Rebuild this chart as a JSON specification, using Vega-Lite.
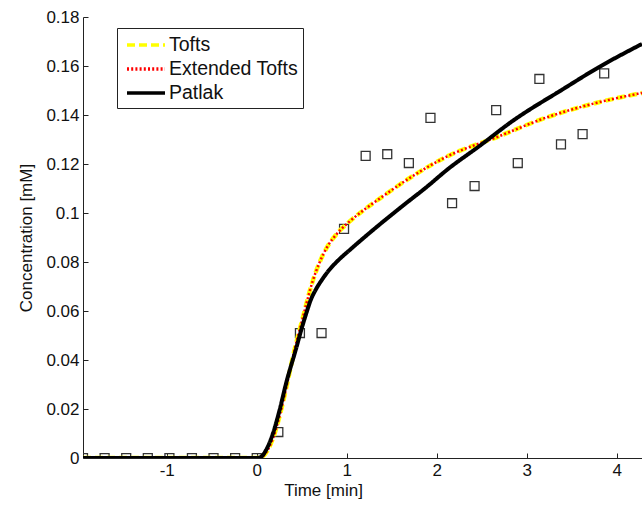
{
  "$schema": "https://vega.github.io/schema/vega-lite/v6.json",
  "autosize": "none",
  "width": 559,
  "height": 441,
  "padding": {"left": 83, "top": 17, "right": 0, "bottom": 47},
  "background": "white",
  "config": {
    "font": "Liberation Sans",
    "view": {"stroke": null},
    "axis": {"domainColor": "#222", "tickColor": "#222", "labelColor": "#111", "titleColor": "#111", "labelFontSize": 17, "titleFontSize": 17, "titleFontWeight": "normal", "grid": false, "tickSize": -5, "labelPadding": 9, "domainWidth": 1, "tickWidth": 1},
    "legend": {"orient": "none", "legendX": 34, "legendY": 11, "strokeColor": "#222", "fillColor": "white", "padding": 5, "labelFontSize": 19.5, "labelColor": "#111", "symbolType": "M-0.7,0H3.1", "symbolSize": 400, "symbolStrokeWidth": 3.5, "rowPadding": 2, "labelOffset": 23, "titlePadding": 0}
  },
  "datasets": {
    "curves": [
      {"series": "Tofts", "t": -1.93, "c": 0},
      {"series": "Tofts", "t": 0, "c": 0},
      {"series": "Tofts", "t": 0.05, "c": 0.0003},
      {"series": "Tofts", "t": 0.1, "c": 0.002},
      {"series": "Tofts", "t": 0.18, "c": 0.008},
      {"series": "Tofts", "t": 0.26, "c": 0.018},
      {"series": "Tofts", "t": 0.33, "c": 0.029},
      {"series": "Tofts", "t": 0.4, "c": 0.041},
      {"series": "Tofts", "t": 0.51, "c": 0.057},
      {"series": "Tofts", "t": 0.62, "c": 0.072},
      {"series": "Tofts", "t": 0.7, "c": 0.08},
      {"series": "Tofts", "t": 0.78, "c": 0.086},
      {"series": "Tofts", "t": 0.89, "c": 0.0915},
      {"series": "Tofts", "t": 1.03, "c": 0.0965},
      {"series": "Tofts", "t": 1.2, "c": 0.1015},
      {"series": "Tofts", "t": 1.37, "c": 0.106},
      {"series": "Tofts", "t": 1.73, "c": 0.115},
      {"series": "Tofts", "t": 2.11, "c": 0.123},
      {"series": "Tofts", "t": 2.67, "c": 0.131},
      {"series": "Tofts", "t": 3.22, "c": 0.139},
      {"series": "Tofts", "t": 3.78, "c": 0.145},
      {"series": "Tofts", "t": 4.28, "c": 0.149},
      {"series": "Extended Tofts", "t": -1.93, "c": 0},
      {"series": "Extended Tofts", "t": 0, "c": 0},
      {"series": "Extended Tofts", "t": 0.05, "c": 0.0003},
      {"series": "Extended Tofts", "t": 0.1, "c": 0.002},
      {"series": "Extended Tofts", "t": 0.18, "c": 0.008},
      {"series": "Extended Tofts", "t": 0.26, "c": 0.018},
      {"series": "Extended Tofts", "t": 0.33, "c": 0.029},
      {"series": "Extended Tofts", "t": 0.4, "c": 0.041},
      {"series": "Extended Tofts", "t": 0.51, "c": 0.057},
      {"series": "Extended Tofts", "t": 0.62, "c": 0.072},
      {"series": "Extended Tofts", "t": 0.7, "c": 0.08},
      {"series": "Extended Tofts", "t": 0.78, "c": 0.086},
      {"series": "Extended Tofts", "t": 0.89, "c": 0.0915},
      {"series": "Extended Tofts", "t": 1.03, "c": 0.0965},
      {"series": "Extended Tofts", "t": 1.2, "c": 0.1015},
      {"series": "Extended Tofts", "t": 1.37, "c": 0.106},
      {"series": "Extended Tofts", "t": 1.73, "c": 0.115},
      {"series": "Extended Tofts", "t": 2.11, "c": 0.123},
      {"series": "Extended Tofts", "t": 2.67, "c": 0.131},
      {"series": "Extended Tofts", "t": 3.22, "c": 0.139},
      {"series": "Extended Tofts", "t": 3.78, "c": 0.145},
      {"series": "Extended Tofts", "t": 4.28, "c": 0.149},
      {"series": "Patlak", "t": -1.93, "c": 0},
      {"series": "Patlak", "t": 0, "c": 0},
      {"series": "Patlak", "t": 0.05, "c": 0.0005},
      {"series": "Patlak", "t": 0.1, "c": 0.003},
      {"series": "Patlak", "t": 0.18, "c": 0.01},
      {"series": "Patlak", "t": 0.25, "c": 0.019},
      {"series": "Patlak", "t": 0.33, "c": 0.031},
      {"series": "Patlak", "t": 0.44, "c": 0.045},
      {"series": "Patlak", "t": 0.5, "c": 0.053},
      {"series": "Patlak", "t": 0.55, "c": 0.059},
      {"series": "Patlak", "t": 0.6, "c": 0.0645},
      {"series": "Patlak", "t": 0.66, "c": 0.069},
      {"series": "Patlak", "t": 0.72, "c": 0.0725},
      {"series": "Patlak", "t": 0.8, "c": 0.0765},
      {"series": "Patlak", "t": 0.9, "c": 0.0805},
      {"series": "Patlak", "t": 1.03, "c": 0.0848},
      {"series": "Patlak", "t": 1.29, "c": 0.093},
      {"series": "Patlak", "t": 1.59, "c": 0.102},
      {"series": "Patlak", "t": 1.9, "c": 0.111},
      {"series": "Patlak", "t": 2.11, "c": 0.1175},
      {"series": "Patlak", "t": 2.48, "c": 0.1275},
      {"series": "Patlak", "t": 2.84, "c": 0.1375},
      {"series": "Patlak", "t": 3.4, "c": 0.1505},
      {"series": "Patlak", "t": 3.8, "c": 0.1595},
      {"series": "Patlak", "t": 4.28, "c": 0.169}
    ],
    "points": [
      {"t": -1.93, "c": 0}, {"t": -1.69, "c": 0}, {"t": -1.45, "c": 0}, {"t": -1.21, "c": 0},
      {"t": -0.97, "c": 0}, {"t": -0.72, "c": 0}, {"t": -0.48, "c": 0}, {"t": -0.24, "c": 0},
      {"t": 0, "c": 0}, {"t": 0.24, "c": 0.0106}, {"t": 0.48, "c": 0.051}, {"t": 0.72, "c": 0.051},
      {"t": 0.97, "c": 0.0935}, {"t": 1.21, "c": 0.1233}, {"t": 1.45, "c": 0.124}, {"t": 1.69, "c": 0.1204},
      {"t": 1.93, "c": 0.1388}, {"t": 2.17, "c": 0.104}, {"t": 2.42, "c": 0.111}, {"t": 2.66, "c": 0.142},
      {"t": 2.9, "c": 0.1204}, {"t": 3.14, "c": 0.1547}, {"t": 3.38, "c": 0.128}, {"t": 3.62, "c": 0.1322},
      {"t": 3.86, "c": 0.157}
    ]
  },
  "encoding": {
    "x": {"field": "t", "type": "quantitative", "scale": {"domain": [-1.93, 4.28], "nice": false, "zero": false}, "axis": {"title": "Time [min]", "values": [-1, 0, 1, 2, 3, 4], "labelExpr": "'' + datum.value", "titleX": 240, "titlePadding": 4}},
    "y": {"field": "c", "type": "quantitative", "scale": {"domain": [0, 0.18], "nice": false}, "axis": {"title": "Concentration [mM]", "values": [0, 0.02, 0.04, 0.06, 0.08, 0.1, 0.12, 0.14, 0.16, 0.18], "format": ".2~f", "titlePadding": 10}}
  },
  "layer": [
    {
      "data": {"name": "points"},
      "mark": {"type": "point", "shape": "square", "filled": false, "stroke": "#333", "strokeWidth": 1.3, "size": 80, "opacity": 1, "clip": true}
    },
    {
      "data": {"name": "curves"},
      "transform": [{"filter": "datum.series === 'Tofts'"}],
      "mark": {"type": "line", "interpolate": "monotone", "clip": true, "strokeWidth": 4.5},
      "encoding": {
        "color": {"field": "series", "type": "nominal", "scale": {"domain": ["Tofts", "Extended Tofts", "Patlak"], "range": ["#ffff00", "#ff0000", "#000000"]}, "legend": {"title": null}},
        "strokeDash": {"field": "series", "type": "nominal", "scale": {"domain": ["Tofts", "Extended Tofts", "Patlak"], "range": [[8, 4], [2, 2.2], [1, 0]]}, "legend": {"title": null}}
      }
    },
    {
      "data": {"name": "curves"},
      "transform": [{"filter": "datum.series === 'Extended Tofts'"}],
      "mark": {"type": "line", "interpolate": "monotone", "clip": true, "strokeWidth": 2.5},
      "encoding": {
        "color": {"field": "series", "type": "nominal", "scale": {"domain": ["Tofts", "Extended Tofts", "Patlak"], "range": ["#ffff00", "#ff0000", "#000000"]}, "legend": {"title": null}},
        "strokeDash": {"field": "series", "type": "nominal", "scale": {"domain": ["Tofts", "Extended Tofts", "Patlak"], "range": [[8, 4], [2, 2.2], [1, 0]]}, "legend": {"title": null}}
      }
    },
    {
      "data": {"name": "curves"},
      "transform": [{"filter": "datum.series === 'Patlak'"}],
      "mark": {"type": "line", "interpolate": "monotone", "clip": true, "strokeWidth": 4},
      "encoding": {
        "color": {"field": "series", "type": "nominal", "scale": {"domain": ["Tofts", "Extended Tofts", "Patlak"], "range": ["#ffff00", "#ff0000", "#000000"]}, "legend": {"title": null}},
        "strokeDash": {"field": "series", "type": "nominal", "scale": {"domain": ["Tofts", "Extended Tofts", "Patlak"], "range": [[8, 4], [2, 2.2], [1, 0]]}, "legend": {"title": null}}
      }
    }
  ]
}
